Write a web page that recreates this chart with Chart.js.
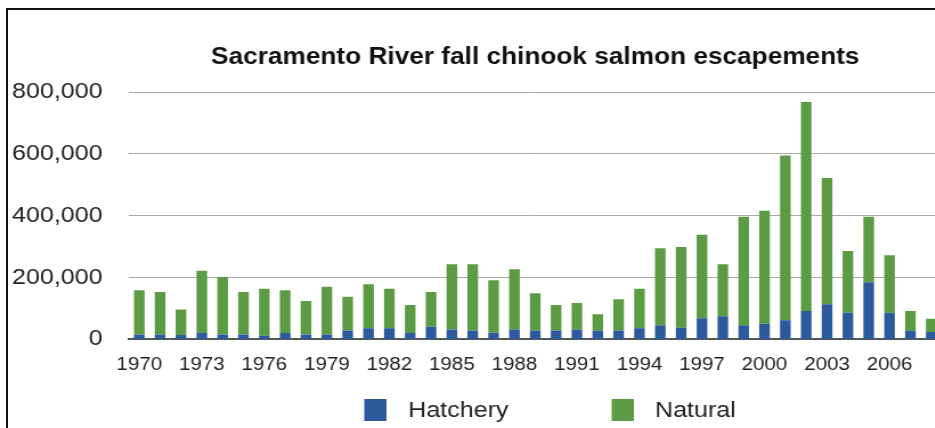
<!DOCTYPE html>
<html>
<head>
<meta charset="utf-8">
<script src="https://cdn.jsdelivr.net/npm/chart.js@4"></script>
<style>
  html, body { margin: 0; padding: 0; overflow: hidden; background: #fff; width: 935px; height: 428px; }
  #frame {
    position: absolute; left: 6px; top: 8px;
    width: 1000px; height: 500px;
    border-left: 2px solid #111; border-top: 2px solid #111;
  }
  /* the reference picture is stretched sideways, so stretch the canvas the same way */
  #stretch { position: absolute; left: 0; top: 0; transform: scaleX(1.14); transform-origin: 0 0; }
</style>
</head>
<body>
<div id="frame">
  <div id="stretch"><canvas id="salmonChart" width="924" height="418"></canvas></div>
</div>
<script>
// --------------------------------
// Chart data (escapement counts)
// --------------------------------
const years = [];
for (let y = 1970; y <= 2008; y++) years.push(String(y));

// total escapement per year
const totals = [
  159000, 153000, 97000, 222000, 202000, 153000, 164000, 159000, 124000, 170000,
  138000, 178000, 164000, 111000, 153000, 243000, 243000, 191000, 227000, 149000,
  111000, 118000, 81000, 130000, 164000, 295000, 299000, 338000, 243000, 397000,
  416000, 595000, 768000, 522000, 286000, 397000, 272000, 92000, 67000
];

const hatchery = [
  16000, 16000, 14000, 21000, 16000, 16000, 12000, 21000, 16000, 16000,
  29000, 36000, 36000, 21000, 41000, 32000, 29000, 22000, 32000, 29000,
  29000, 32000, 29000, 29000, 36000, 46000, 38000, 68000, 75000, 46000,
  51000, 62000, 92000, 114000, 86000, 185000, 86000, 29000, 24000
];

const natural = totals.map((t, i) => t - hatchery[i]);

const yTicks = [0, 200000, 400000, 600000, 800000];

const chartTitle = 'Sacramento River fall chinook salmon escapements';
const seriesNames = ['Hatchery', 'Natural'];
const seriesColors = ['#2c5a9c', '#5c9b44'];

const fontFamily = "'Liberation Sans', Arial, Helvetica, sans-serif";

// title centred over the plot area (not the whole canvas), like the picture
const centredTitle = {
  id: 'centredTitle',
  afterDraw(chart) {
    const ctx = chart.ctx;
    const mid = (chart.chartArea.left + chart.chartArea.right) / 2;
    ctx.save();
    ctx.font = 'bold 23px ' + fontFamily;
    ctx.fillStyle = '#111';
    ctx.textAlign = 'center';
    ctx.textBaseline = 'middle';
    ctx.fillText(chartTitle, mid, 48);
    ctx.restore();
  }
};

// legend drawn by hand so the box/text spacing matches the picture
const bottomLegend = {
  id: 'bottomLegend',
  afterDraw(chart) {
    const ctx = chart.ctx;
    const mid = (chart.chartArea.left + chart.chartArea.right) / 2;
    const items = [
      { text: seriesNames[0], color: seriesColors[0], box: mid - 150, label: mid - 111.5 },
      { text: seriesNames[1], color: seriesColors[1], box: mid + 67, label: mid + 105 }
    ];
    ctx.save();
    ctx.font = '22px ' + fontFamily;
    ctx.textBaseline = 'middle';
    ctx.textAlign = 'left';
    items.forEach(item => {
      ctx.fillStyle = item.color;
      ctx.fillRect(item.box, 389, 19.5, 22);
      ctx.fillStyle = '#222';
      ctx.fillText(item.text, item.label, 401);
    });
    ctx.restore();
  }
};

const salmonctx = document.getElementById('salmonChart').getContext('2d');
const salmonChart = new Chart(salmonctx, {
  type: 'bar',
  data: {
    labels: years,
    datasets: [
      {
        label: seriesNames[0],
        data: hatchery,
        backgroundColor: seriesColors[0],
        barPercentage: 0.51,
        categoryPercentage: 1.0
      },
      {
        label: seriesNames[1],
        data: natural,
        backgroundColor: seriesColors[1],
        barPercentage: 0.51,
        categoryPercentage: 1.0
      }
    ]
  },
  options: {
    responsive: false,
    animation: false,
    devicePixelRatio: 1,
    events: [],
    layout: { padding: { top: 82, right: 105, bottom: 37, left: 0 } },
    plugins: {
      legend: { display: false },
      tooltip: { enabled: false },
      title: { display: false }
    },
    scales: {
      x: {
        stacked: true,
        grid: { display: false, drawTicks: false },
        border: { display: true, color: '#555', width: 2 },
        ticks: {
          color: '#222',
          font: { family: fontFamily, size: 18 },
          padding: 15,
          maxRotation: 0,
          autoSkip: false,
          // every third year gets a label
          callback: function (value, index) {
            return index % 3 === 0 ? years[index] : '';
          }
        }
      },
      y: {
        stacked: true,
        min: yTicks[0],
        max: yTicks[yTicks.length - 1],
        afterFit: function (scale) { scale.width = 106; },
        afterBuildTicks: function (scale) {
          scale.ticks = yTicks.map(v => ({ value: v }));
        },
        grid: { color: '#a8a8a8', lineWidth: 1, drawTicks: false },
        border: { display: false },
        ticks: {
          color: '#222',
          font: { family: fontFamily, size: 22 },
          padding: 23,
          callback: function (value) { return value.toLocaleString('en-US'); }
        }
      }
    }
  },
  plugins: [centredTitle, bottomLegend]
});
</script>
</body>
</html>
